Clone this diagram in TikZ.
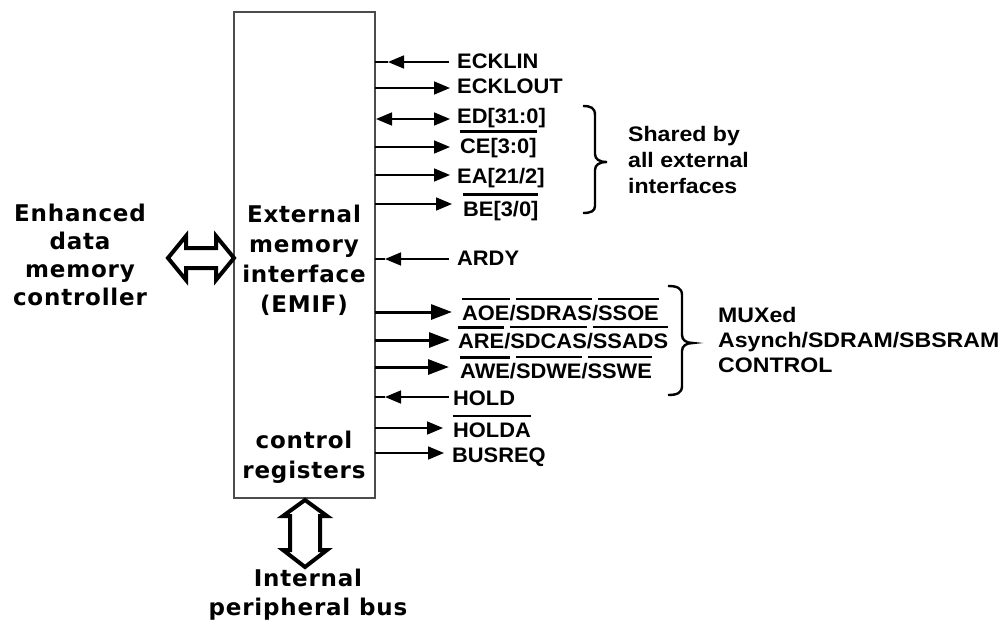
\documentclass[tikz,border=0pt]{standalone}
\usepackage{fontspec}
\usetikzlibrary{arrows.meta}
\newfontfamily\boxfont{DejaVu Sans}[LetterSpace=3.5]
\newfontfamily\sigfont{Liberation Sans}[FakeStretch=1.04]
\newfontfamily\lblfont{Liberation Sans}[FakeStretch=1.1]
\newcommand\ovl[1]{\leavevmode\vbox{\hrule height 2.4pt\kern 5pt\hbox{#1}}}
\begin{document}
\begin{tikzpicture}[x=1pt,y=-1pt,
  sig/.style={font=\sigfont\bfseries\fontsize{21}{24}\selectfont, inner sep=0pt, anchor=base west},
  lbl/.style={font=\lblfont\bfseries\fontsize{21}{26}\selectfont, inner sep=0pt, anchor=west, align=left},
  big/.style={font=\boxfont\bfseries\fontsize{23}{30}\selectfont, inner sep=0pt, align=center},
  wire/.style={line width=1.6pt},
  wirebold/.style={line width=3pt},
  tipR/.style={-{Triangle[length=16pt,width=13pt]}},
  tipB/.style={-{Triangle[length=21pt,width=15pt]}},
  tipLR/.style={{Triangle[length=16pt,width=13pt]}-{Triangle[length=16pt,width=13pt]}},
  bracestyle/.style={line width=2.4pt},
  hollow/.style={line width=4pt, line join=miter, fill=white}]
\useasboundingbox (0,0) rectangle (1002,624);

% main box
\node[draw=black!70, line width=2pt, minimum width=141pt, minimum height=486pt, inner sep=0pt] (emif) at (304.5,255) {};
\node[big] (emiftxt) at (304,260) {External\\memory\\interface\\(EMIF)};
\node[big] (ctrl) at (304,457) {control\\registers};

% left label and bus arrow
\node[big, font=\boxfont\bfseries\fontsize{23}{28}\selectfont] (edmc) at (80,255) {Enhanced\\data\\memory\\controller};
\draw[hollow] (168,258) -- (186,236) -- (186,248) -- (216,248) -- (216,236) -- (234,258)
  -- (216,280) -- (216,268) -- (186,268) -- (186,280) -- cycle;

% bottom label and bus arrow
\node[big, font=\boxfont\bfseries\fontsize{23}{29}\selectfont] (ipb) at (308,595) {Internal\\peripheral bus};
\draw[hollow] (305,500) -- (327,516) -- (320,516) -- (320,550) -- (327,550) -- (305,567)
  -- (283,550) -- (290,550) -- (290,516) -- (283,516) -- cycle;

% signals
% ECKLIN
\coordinate (b1) at (375,62); \coordinate (m1) at (388,62); \coordinate (e1) at (449,62);
\node[sig] (l1) at (457,68) {ECKLIN};
\draw[wire] (b1) -- (m1); \draw[wire,tipR] (e1) -- (m1);
% ECKLOUT
\coordinate (b2) at (375,88); \coordinate (e2) at (450,88);
\node[sig] (l2) at (457,93) {ECKLOUT};
\draw[wire,tipR] (b2) -- (e2);
% ED
\coordinate (b3) at (376,119); \coordinate (e3) at (450,119);
\node[sig] (l3) at (457,123) {ED[31:0]};
\draw[wire,tipLR] (b3) -- (e3);
% CE
\coordinate (b4) at (375,147); \coordinate (e4) at (450,147);
\node[sig] (l4) at (460,153) {\ovl{CE[3:0]}};
\draw[wire,tipR] (b4) -- (e4);
% EA
\coordinate (b5) at (375,175); \coordinate (e5) at (450,175);
\node[sig] (l5) at (457,183) {EA[21/2]};
\draw[wire,tipR] (b5) -- (e5);
% BE
\coordinate (b6) at (375,204); \coordinate (e6) at (452,204);
\node[sig] (l6) at (463,216) {\ovl{BE[3/0]}};
\draw[wire,tipR] (b6) -- (e6);
% ARDY
\coordinate (b7) at (375,259); \coordinate (m7) at (385,259); \coordinate (e7) at (449,259);
\node[sig] (l7) at (457,265) {ARDY};
\draw[wire] (b7) -- (m7); \draw[wire,tipR] (e7) -- (m7);
% AOE
\coordinate (b8) at (375,312); \coordinate (e8) at (452,312);
\node[sig] (l8) at (462,320) {\ovl{AOE}/\ovl{SDRAS}/\ovl{SSOE}};
\draw[wirebold,tipB] (b8) -- (e8);
% ARE
\coordinate (b9) at (375,340); \coordinate (e9) at (450,340);
\node[sig] (l9) at (458,348) {\ovl{ARE}/\ovl{SDCAS}/\ovl{SSADS}};
\draw[wirebold,tipB] (b9) -- (e9);
% AWE
\coordinate (b10) at (375,367); \coordinate (e10) at (449,367);
\node[sig] (l10) at (460,378) {\ovl{AWE}/\ovl{SDWE}/\ovl{SSWE}};
\draw[wirebold,tipB] (b10) -- (e10);
% HOLD
\coordinate (b11) at (375,397); \coordinate (m11) at (385,397); \coordinate (e11) at (449,397);
\node[sig] (l11) at (453,405) {HOLD};
\draw[wire] (b11) -- (m11); \draw[wire,tipR] (e11) -- (m11);
% HOLDA
\coordinate (b12) at (375,428); \coordinate (e12) at (443,428);
\node[sig] (l12) at (453,437) {\ovl{HOLDA}};
\draw[wire,tipR] (b12) -- (e12);
% BUSREQ
\coordinate (b13) at (375,453); \coordinate (e13) at (444,453);
\node[sig] (l13) at (452,462) {BUSREQ};
\draw[wire,tipR] (b13) -- (e13);

% braces
\draw[bracestyle] (583,106) .. controls (591,106) and (595,108) .. (595,115) -- (595,154)
  .. controls (595,159) and (599,162) .. (607,162)
  .. controls (599,162) and (595,165) .. (595,170) -- (595,206)
  .. controls (595,211) and (591,213) .. (583,213);
\node[lbl] (shared) at (628,160) {Shared by\\all external\\interfaces};

\draw[bracestyle] (668,286) .. controls (677,286) and (682,288) .. (682,295) -- (682,335)
  .. controls (682,340) and (686,343) .. (693,343)
  .. controls (686,343) and (682,346) .. (682,351) -- (682,386)
  .. controls (682,393) and (677,395) .. (668,395);
\node[lbl, font=\lblfont\bfseries\fontsize{21}{25}\selectfont] (mux) at (718,340) {MUXed\\Asynch/SDRAM/SBSRAM\\CONTROL};
\end{tikzpicture}
\end{document}
